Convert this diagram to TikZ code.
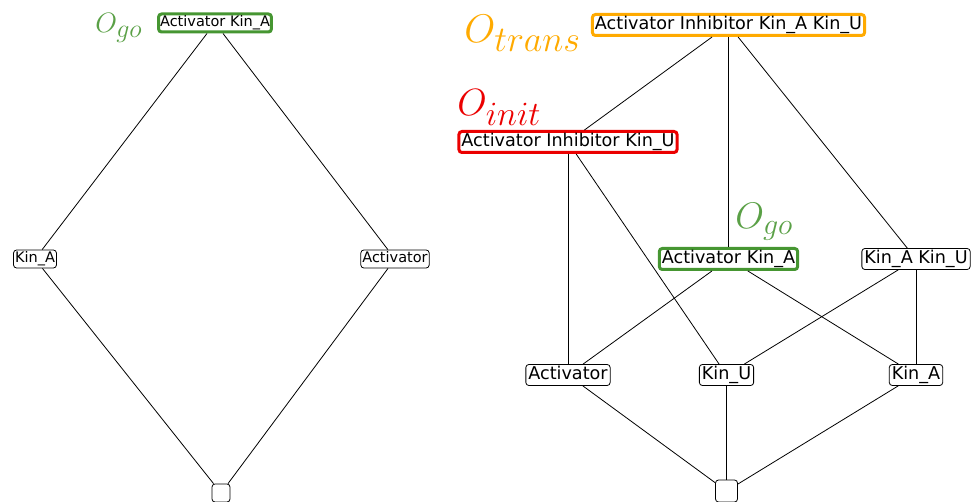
\RequirePackage{fix-cm}
\documentclass[tikz,border=0pt]{standalone}
\usepackage{fontspec}
\newfontfamily\nodefont{DejaVu Sans}
\usepackage{tikz}
\usetikzlibrary{positioning}

\definecolor{otrans}{RGB}{255,170,0}
\definecolor{oinit}{RGB}{235,0,0}
\definecolor{ogo}{RGB}{70,150,50}
\definecolor{ogolabel}{RGB}{90,160,70}

\DeclareMathSizes{40}{40}{36}{25}
\DeclareMathSizes{38}{38}{34}{25}
\DeclareMathSizes{37}{37}{30}{22}
\DeclareMathSizes{28}{28}{26}{18}

\begin{document}
\begin{tikzpicture}[ x = 1pt
                   , y = -1pt
                   , line width = 0.8pt
                   , every node/.style = { rectangle
                                         , rounded corners = 3pt
                                         , draw = black
                                         , line width = 0.8pt
                                         , inner xsep = 2.5pt
                                         , inner ysep = 1.7pt }
                   ]
  \useasboundingbox (0,0) rectangle (973,502);

  %%
  %% Nodes
  %%
  \tikzset{ big/.style={font=\nodefont\fontsize{17.6}{20}\selectfont, text height=13.2pt, text depth=4.4pt}
          , small/.style={font=\nodefont\fontsize{14.5}{16}\selectfont, text height=11pt, text depth=3.6pt, inner xsep=1.5pt}
          , gobox/.style={draw=ogo, line width=3pt}
          , initbox/.style={draw=oinit, line width=3pt}
          , transbox/.style={draw=otrans, line width=3pt}
          , bottom/.style={inner sep=0pt}
          , tag/.style={draw=none, rounded corners=0pt, inner sep=0pt}
          }

  % Left lattice
  \node (lgo) [small, gobox] at (215,23) {Activator Kin\_A};
  \node (lkina) [small] at (35,259) {Kin\_A};
  \node (lact) [small] at (395,259) {Activator};
  \node (lbot) [bottom, minimum size=18pt] at (221,493) {};

  % Right lattice
  \node (rtrans) [big, transbox] at (728.5,25) {Activator Inhibitor Kin\_A Kin\_U};
  \node (rinit) [big, initbox] at (568,142) {Activator Inhibitor Kin\_U};
  \node (rgo) [big, gobox] at (728.5,259) {Activator Kin\_A};
  \node (rkinaku) [big] at (916,259) {Kin\_A Kin\_U};
  \node (ract) [big] at (568,375) {Activator};
  \node (rkinu) [big] at (726.5,375) {Kin\_U};
  \node (rkina) [big] at (916,375) {Kin\_A};
  \node (rbot) [bottom, minimum size=22pt] at (726.5,491) {};

  % Labels
  \node (lgotag) [tag, anchor=base west, text=ogolabel] at (95,33)
        {\fontsize{28}{28}\selectfont$O_{go}$};
  \node (transtag) [tag, anchor=base west, text=otrans] at (464,43)
        {\fontsize{40}{40}\selectfont$O_{trans}$};
  \node (inittag) [tag, anchor=base west, text=oinit] at (457,116)
        {\fontsize{38}{38}\selectfont$O_{init}$};
  \node (rgotag) [tag, anchor=base west, text=ogolabel] at (735,229)
        {\fontsize{37}{37}\selectfont$O_{go}$};

  %%
  %% Edges
  %%
  \draw (lgo) -- (lkina);
  \draw (lgo) -- (lact);
  \draw (lkina) -- (lbot);
  \draw (lact) -- (lbot);

  \draw (rtrans) -- (rinit);
  \draw (rtrans) -- (rgo);
  \draw (rtrans) -- (rkinaku);
  \draw (rinit) -- (ract);
  \draw (rinit) -- (rkinu);
  \draw (rgo) -- (ract);
  \draw (rgo) -- (rkina);
  \draw (rkinaku) -- (rkinu);
  \draw (rkinaku) -- (rkina);
  \draw (ract) -- (rbot);
  \draw (rkinu) -- (rbot);
  \draw (rkina) -- (rbot);
\end{tikzpicture}
\end{document}
